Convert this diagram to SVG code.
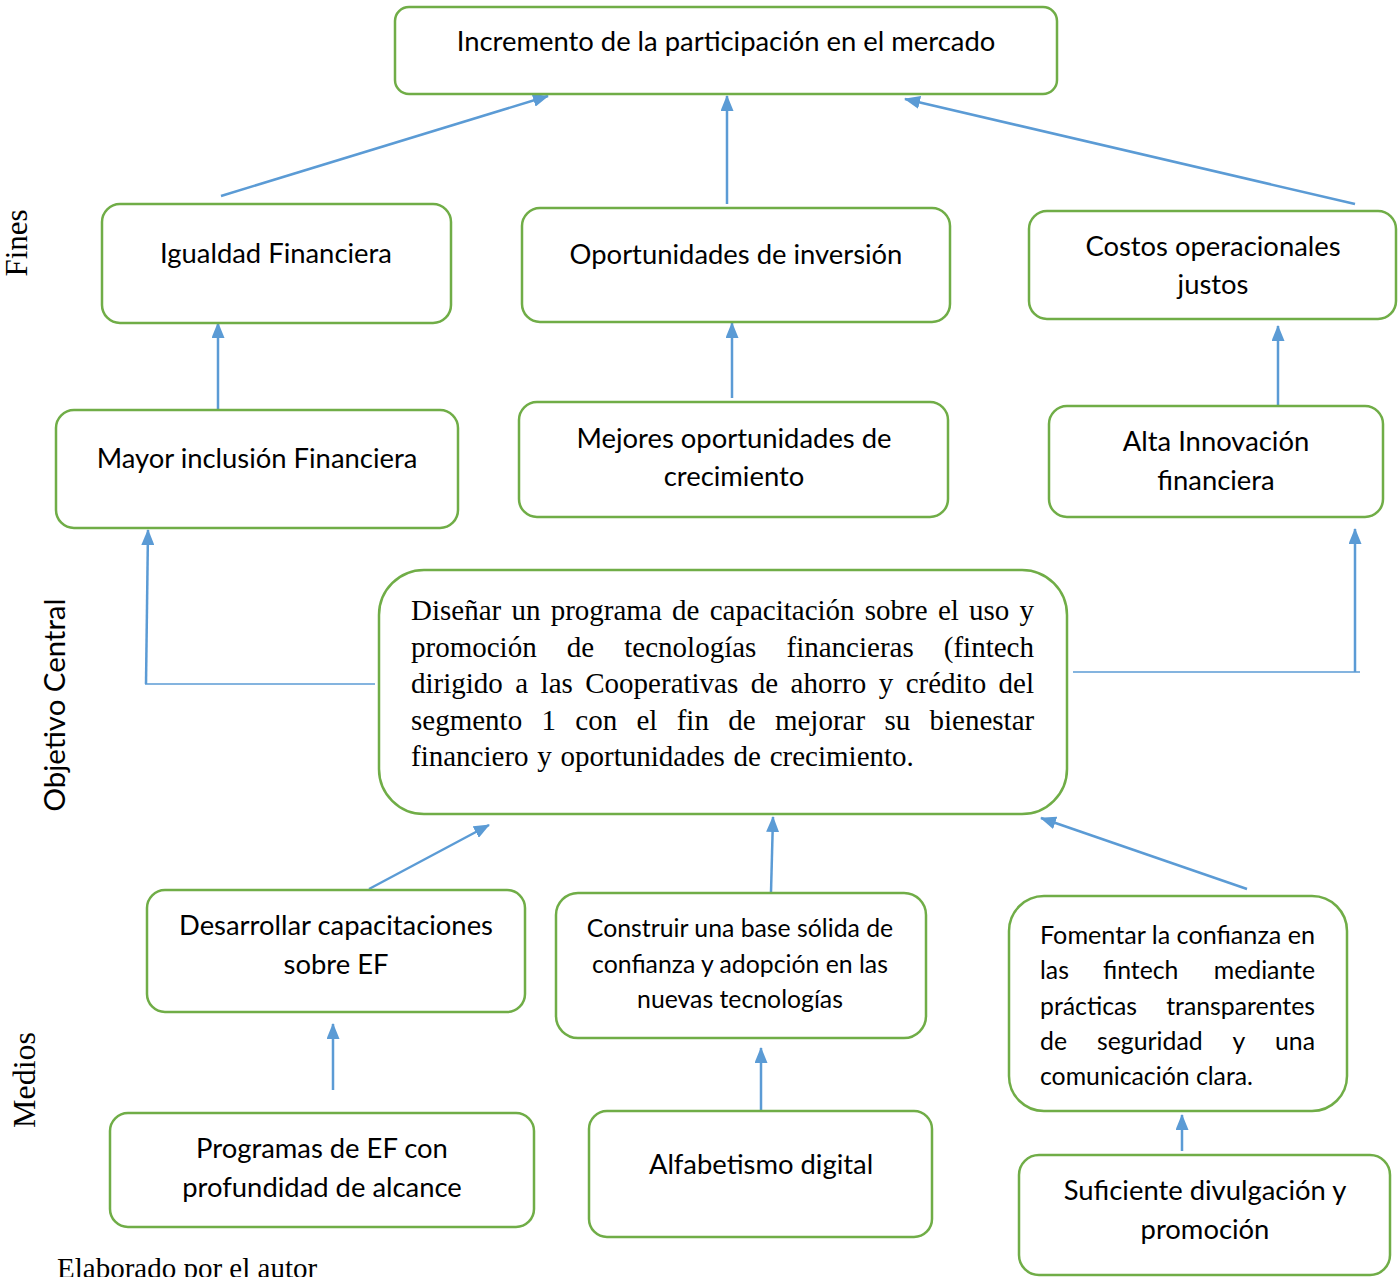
<svg xmlns="http://www.w3.org/2000/svg" width="1398" height="1277" viewBox="0 0 1398 1277">
  <style>
    .box { fill: #ffffff; stroke: #70AD47; stroke-width: 2.5; }
    .t { font-family: Lato, "Open Sans", "Liberation Sans", sans-serif; font-size: 27.4px; fill: #000000; text-anchor: middle; }
    .ts { font-family: Lato, "Open Sans", "Liberation Sans", sans-serif; font-size: 24.8px; fill: #000000; }
    .serif { font-family: "Liberation Serif", "Times New Roman", serif; fill: #000000; }
    .con { fill: none; stroke: #5B9BD5; stroke-width: 2.5; }
    .thin { fill: none; stroke: #5B9BD5; stroke-width: 1.5; }
  </style>
  <defs>
    <marker id="arrow" viewBox="0 0 16 13" refX="15" refY="6.5" markerWidth="16" markerHeight="13" markerUnits="userSpaceOnUse" orient="auto">
      <path d="M0,0 L16,6.5 L0,13 Z" fill="#5B9BD5"/>
    </marker>
  </defs>
  <rect width="1398" height="1277" fill="#ffffff"/>

  <!-- side labels -->
  <text class="serif" font-size="31" transform="translate(27,243) rotate(-90)" text-anchor="middle">Fines</text>
  <text font-family="Lato, 'Open Sans', sans-serif" font-size="29.4" transform="translate(65,705) rotate(-90)" text-anchor="middle">Objetivo Central</text>
  <text class="serif" font-size="32" transform="translate(35,1080) rotate(-90)" text-anchor="middle">Medios</text>
  <text class="serif" font-size="29" x="57" y="1278">Elaborado por el autor</text>

  <!-- connectors -->
  <g id="connectors">
    <line class="con" x1="221" y1="196" x2="548" y2="96" marker-end="url(#arrow)"/>
    <line class="con" x1="727" y1="204" x2="727" y2="96" marker-end="url(#arrow)"/>
    <line class="con" x1="1355" y1="204" x2="905" y2="99" marker-end="url(#arrow)"/>
    <line class="con" x1="218" y1="409" x2="218" y2="323" marker-end="url(#arrow)"/>
    <line class="con" x1="732" y1="398" x2="732" y2="323" marker-end="url(#arrow)"/>
    <line class="con" x1="1278" y1="405" x2="1278" y2="326" marker-end="url(#arrow)"/>
    <line class="thin" x1="145" y1="684" x2="375" y2="684"/>
    <line class="con" x1="146" y1="684" x2="148" y2="530" marker-end="url(#arrow)"/>
    <line class="thin" x1="1073" y1="672" x2="1360" y2="672"/>
    <line class="con" x1="1355" y1="672" x2="1355" y2="529" marker-end="url(#arrow)"/>
    <line class="con" x1="369" y1="889" x2="489" y2="825" marker-end="url(#arrow)"/>
    <line class="con" x1="771" y1="892" x2="773" y2="817" marker-end="url(#arrow)"/>
    <line class="con" x1="1247" y1="889" x2="1041" y2="818" marker-end="url(#arrow)"/>
    <line class="con" x1="333" y1="1090" x2="333" y2="1024" marker-end="url(#arrow)"/>
    <line class="con" x1="761" y1="1113" x2="761" y2="1048" marker-end="url(#arrow)"/>
    <line class="con" x1="1182" y1="1151" x2="1182" y2="1115" marker-end="url(#arrow)"/>
  </g>

  <!-- fines -->
  <g id="n-incremento">
    <rect class="box" x="395" y="7" width="662" height="87" rx="14"/>
    <text class="t" x="726" y="51">Incremento de la participación en el mercado</text>
  </g>
  <g id="n-igualdad">
    <rect class="box" x="102" y="204" width="349" height="119" rx="18"/>
    <text class="t" x="276" y="263">Igualdad Financiera</text>
  </g>
  <g id="n-oportunidades">
    <rect class="box" x="522" y="208" width="428" height="114" rx="18"/>
    <text class="t" x="736" y="264">Oportunidades de inversión</text>
  </g>
  <g id="n-costos">
    <rect class="box" x="1029" y="211" width="367" height="108" rx="18"/>
    <text class="t" x="1213" y="256">Costos operacionales</text>
    <text class="t" x="1213" y="294">justos</text>
  </g>
  <g id="n-inclusion">
    <rect class="box" x="56" y="410" width="402" height="118" rx="18"/>
    <text class="t" x="257" y="468">Mayor inclusión Financiera</text>
  </g>
  <g id="n-mejores">
    <rect class="box" x="519" y="402" width="429" height="115" rx="18"/>
    <text class="t" x="734" y="448">Mejores oportunidades de</text>
    <text class="t" x="734" y="486">crecimiento</text>
  </g>
  <g id="n-innovacion">
    <rect class="box" x="1049" y="406" width="334" height="111" rx="18"/>
    <text class="t" x="1216" y="451">Alta Innovación</text>
    <text class="t" x="1216" y="490">financiera</text>
  </g>

  <!-- objetivo central -->
  <g id="n-objetivo">
    <rect class="box" x="379" y="570" width="688" height="244" rx="45"/>
    <g class="serif" font-size="29">
      <text x="411" y="620" word-spacing="3">Diseñar un programa de capacitación sobre el uso y</text>
      <text y="657"><tspan x="411">promoción</tspan><tspan x="566.8">de</tspan><tspan x="624.3">tecnologías</tspan><tspan x="786.5">financieras</tspan><tspan x="943.8">(fintech</tspan></text>
      <text x="411" y="693" word-spacing="5.2">dirigido a las Cooperativas de ahorro y crédito del</text>
      <text y="730"><tspan x="411">segmento</tspan><tspan x="541.5">1</tspan><tspan x="575.3">con</tspan><tspan x="636.5">el</tspan><tspan x="676.7">fin</tspan><tspan x="728.2">de</tspan><tspan x="774.9">mejorar</tspan><tspan x="884.4">su</tspan><tspan x="929.5">bienestar</tspan></text>
      <text x="411" y="766" word-spacing="1.5">financiero y oportunidades de crecimiento.</text>
    </g>
  </g>

  <!-- medios -->
  <g id="n-desarrollar">
    <rect class="box" x="147" y="890" width="378" height="122" rx="18"/>
    <text class="t" x="336" y="935">Desarrollar capacitaciones</text>
    <text class="t" x="336" y="974">sobre EF</text>
  </g>
  <g id="n-construir">
    <rect class="box" x="556" y="893" width="370" height="145" rx="22"/>
    <text class="ts" text-anchor="middle" x="740" y="937">Construir una base sólida de</text>
    <text class="ts" text-anchor="middle" x="740" y="973">confianza y adopción en las</text>
    <text class="ts" text-anchor="middle" x="740" y="1008">nuevas tecnologías</text>
  </g>
  <g id="n-fomentar">
    <rect class="box" x="1009" y="896" width="338" height="215" rx="35"/>
    <text class="ts" x="1040" y="944" textLength="275" lengthAdjust="spacingAndGlyphs">Fomentar la confianza en</text>
    <text class="ts" y="979"><tspan x="1040">las</tspan><tspan x="1103">fintech</tspan><tspan x="1315" text-anchor="end">mediante</tspan></text>
    <text class="ts" y="1015"><tspan x="1040">prácticas</tspan><tspan x="1315" text-anchor="end">transparentes</tspan></text>
    <text class="ts" y="1050"><tspan x="1040">de</tspan><tspan x="1097">seguridad</tspan><tspan x="1239" text-anchor="middle">y</tspan><tspan x="1315" text-anchor="end">una</tspan></text>
    <text class="ts" x="1040" y="1085">comunicación clara.</text>
  </g>
  <g id="n-programas">
    <rect class="box" x="110" y="1113" width="424" height="114" rx="18"/>
    <text class="t" x="322" y="1158">Programas de EF con</text>
    <text class="t" x="322" y="1197">profundidad de alcance</text>
  </g>
  <g id="n-alfabetismo">
    <rect class="box" x="589" y="1111" width="343" height="126" rx="18"/>
    <text class="t" x="761" y="1174">Alfabetismo digital</text>
  </g>
  <g id="n-suficiente">
    <rect class="box" x="1019" y="1155" width="371" height="120" rx="20"/>
    <text class="t" x="1205" y="1200">Suficiente divulgación y</text>
    <text class="t" x="1205" y="1239">promoción</text>
  </g>
</svg>
